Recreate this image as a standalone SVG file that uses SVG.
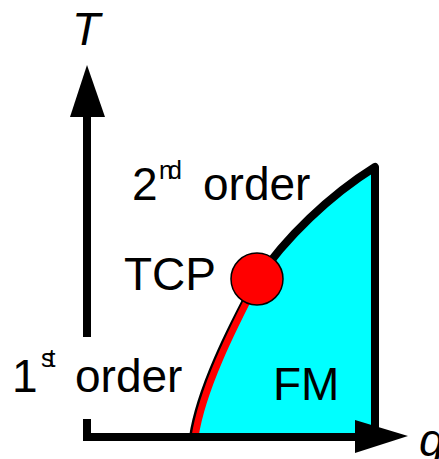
<svg xmlns="http://www.w3.org/2000/svg" width="439" height="459" viewBox="0 0 439 459">
<style>
text{font-family:"Liberation Sans",Arial,sans-serif;fill:#000}
.lbl{font-size:46px}
.sup{font-size:25px}
.it{font-style:italic}
.ax{fill:none;stroke:#000;stroke-width:8}
</style>
<rect width="439" height="459" fill="#fff"/>
<g id="fm-region">
<path d="M193,437 C200,390 230,330 257,280 C285,238 330,195 375,167 L375,437 Z" fill="#00FFFF"/>
<path d="M193,437 C200,390 230,330 257,280 C285,238 330,195 375,167 L375,437" fill="none" stroke="#000" stroke-width="8" stroke-linejoin="round"/>
<path d="M195,437 C202,390 232,330 258,280" fill="none" stroke="#FF0000" stroke-width="7"/>
</g>
<g id="axes">
<path class="ax" d="M87,337 V110"/>
<polygon points="87,65 70,117 105,117" fill="#000"/>
<path class="ax" d="M87,419 V437 H365" stroke-linejoin="miter"/>
<polygon points="408,436 355,420 355,453" fill="#000"/>
</g>
<g id="tcp">
<circle cx="257" cy="279" r="26" fill="#FF0000" stroke="#000" stroke-width="1.5"/>
</g>
<g id="labels">
<text class="lbl it" x="72" y="45">T</text>
<text class="lbl it" x="419" y="456">g</text>
<text class="lbl" x="132" y="200">2</text>
<text class="sup" x="159" y="179" letter-spacing="-5">nd</text>
<text class="lbl" x="203" y="200">order</text>
<text class="lbl" x="124" y="290">TCP</text>
<text class="lbl" x="12" y="392">1</text>
<text class="sup" x="41" y="367" letter-spacing="-5">st</text>
<text class="lbl" x="75" y="392">order</text>
<text class="lbl" x="273" y="400">FM</text>
</g>
</svg>
